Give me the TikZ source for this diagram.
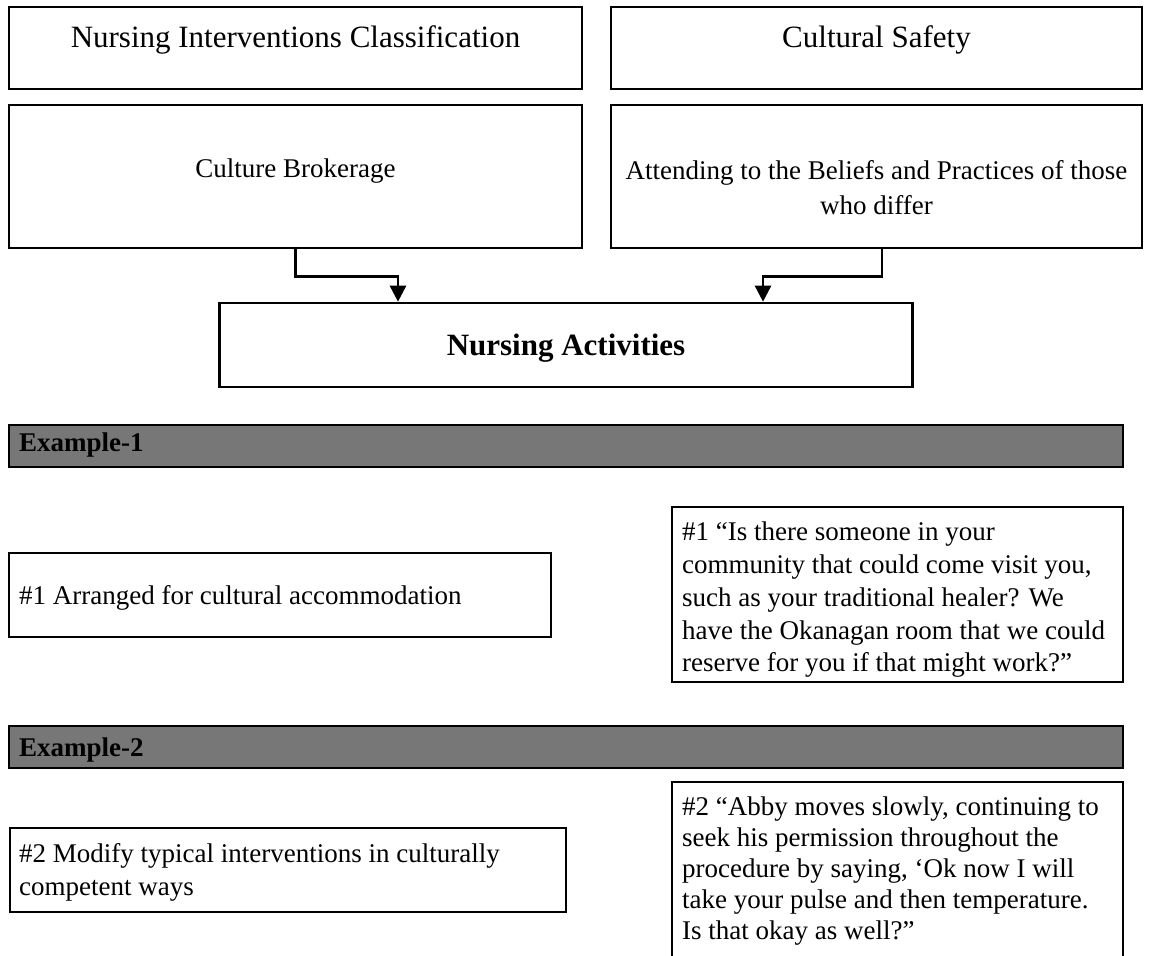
\documentclass[tikz,border=0pt]{standalone}
\usepackage{fontspec}
\setmainfont{Liberation Serif}
\usetikzlibrary{arrows.meta}
\definecolor{barfill}{HTML}{777777}
\begin{document}
\begin{tikzpicture}[x=1pt,y=-1pt,
  box/.style={draw=black,line width=2.6pt,fill=white,inner sep=0pt},
  bar/.style={draw=black,line width=2.6pt,fill=barfill,inner sep=0pt},
  title/.style={font=\fontsize{31}{36}\selectfont,inner sep=0pt},
  lbl/.style={font=\fontsize{27}{33}\selectfont,inner sep=0pt},
  bold/.style={font=\fontsize{27}{33}\selectfont\bfseries,inner sep=0pt},
  arr/.style={draw=black,line width=2.6pt,-{Triangle[width=16pt,length=16pt]}}]
\useasboundingbox (0,0) rectangle (1150,955);
\clip (0,0) rectangle (1150,955);
\fill[white] (0,0) rectangle (1150,955);
% top boxes
\node[box,minimum width=573pt,minimum height=82pt] (nic) at (295.5,48) {};
\node[box,minimum width=531pt,minimum height=82pt] (cs) at (876.5,48) {};
\node[box,minimum width=573pt,minimum height=143pt] (cb) at (295.5,176.5) {};
\node[box,minimum width=531pt,minimum height=143pt] (att) at (876.5,176.5) {};
\node[box,minimum width=693pt,minimum height=84pt] (na) at (566,345) {};
\node[title] (nict) at (295.5,40) {Nursing Interventions Classification};
\node[title] (cst) at (876.5,40) {Cultural Safety};
\node[lbl] (cbt) at (295.5,171) {Culture Brokerage};
\node[lbl,align=center,font=\fontsize{27}{35}\selectfont] (attt) at (876.5,188) {Attending to the Beliefs and Practices of those\\who differ};
\node[title,font=\fontsize{31}{36}\selectfont\bfseries] (nat) at (566,348) {Nursing Activities};
% connectors
\coordinate (la) at (398,0);
\coordinate (ra) at (882,0);
\coordinate (rb) at (763,0);
\draw[arr] (cb.south) -- ++(0,27) -| (na.north -| la);
\draw[arr] (att.south -| ra) -- ++(0,27) -| (na.north -| rb);
% example 1
\node[bar,minimum width=1114pt,minimum height=42pt] (ex1) at (566,446) {};
\node[bold,anchor=west] (ex1t) at (19,445) {Example-1};
\node[box,minimum width=542pt,minimum height=84pt] (b1) at (280,595) {};
\node[lbl,anchor=west] (b1t) at (19,598) {\#1 Arranged for cultural accommodation};
\node[box,minimum width=451pt,minimum height=175pt] (q1) at (897.5,594.5) {};
\node[lbl,anchor=west,align=left,font=\fontsize{27}{32.75}\selectfont] (q1t) at (682,600) {\#1 “Is there someone in your\\community that could come visit you,\\such as your traditional healer? We\\have the Okanagan room that we could\\reserve for you if that might work?”};
% example 2
\node[bar,minimum width=1114pt,minimum height=42pt] (ex2) at (566,747) {};
\node[bold,anchor=west] (ex2t) at (19,750) {Example-2};
\node[box,minimum width=556pt,minimum height=84pt] (b2) at (288,870) {};
\node[lbl,anchor=west,align=left,font=\fontsize{27}{33}\selectfont] (b2t) at (19,872) {\#2 Modify typical interventions in culturally\\competent ways};
\node[box,minimum width=451pt,minimum height=190pt] (q2) at (897.5,877) {};
\node[lbl,anchor=west,align=left,font=\fontsize{27}{31}\selectfont] (q2t) at (682,871) {\#2 “Abby moves slowly, continuing to\\seek his permission throughout the\\procedure by saying, ‘Ok now I will\\take your pulse and then temperature.\\Is that okay as well?”};
\end{tikzpicture}
\end{document}
